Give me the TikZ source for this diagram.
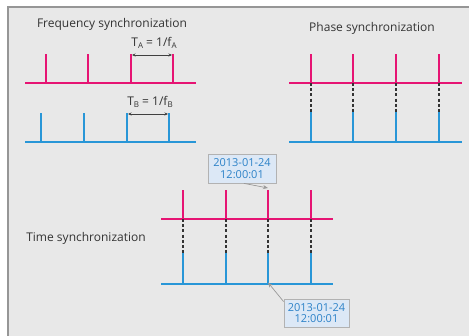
\documentclass[tikz,border=0pt]{standalone}
\usepackage{fontspec}
\setmainfont{Open Sans}
\usetikzlibrary{arrows.meta}
\definecolor{pinkc}{RGB}{230,20,115}
\definecolor{bluec}{RGB}{40,150,215}
\definecolor{bgc}{RGB}{232,232,232}
\definecolor{framec}{RGB}{150,150,150}
\definecolor{boxfill}{RGB}{220,232,246}
\definecolor{boxtext}{RGB}{45,130,200}
\newcommand{\sub}[1]{\raisebox{-0.35ex}{\footnotesize #1}}
\tikzset{
  pinkline/.style={draw=pinkc, line width=2.2pt},
  blueline/.style={draw=bluec, line width=2.2pt},
  dashline/.style={draw=black!80, line width=2.2pt, dash pattern=on 3pt off 2.2pt},
  dimline/.style={draw=black!75, line width=0.6pt, {Stealth[length=3.5pt,width=3pt]}-{Stealth[length=3.5pt,width=3pt]}},
  title/.style={font=\fontsize{12}{14}\selectfont, text=black!80, inner sep=0pt},
  dimlabel/.style={font=\fontsize{12}{14}\selectfont, text=black!80, inner sep=0pt},
  callout/.style={draw=black!30, fill=boxfill, line width=0.8pt, text=boxtext, align=center,
     font=\fontsize{11}{11.5}\selectfont, minimum width=68pt, minimum height=29pt, inner sep=1pt},
  pointer/.style={draw=black!40, line width=0.7pt, -{Stealth[length=5pt,width=4pt]}},
}
\begin{document}
\begin{tikzpicture}[x=1pt,y=-1pt]
\useasboundingbox (0,0) rectangle (469,336);
\fill[bgc] (8,7) rectangle (480,345);
\draw[framec, line width=1.2pt] (8,345) -- (8,7) -- (480,7);

% ---------- Frequency synchronization ----------
\node[title] (tf) at (112,24) {Frequency synchronization};
\coordinate (fpa0) at (25,83);  \coordinate (fpa1) at (196,83);
\draw[pinkline] (fpa0) -- (fpa1);
\foreach \i/\x in {1/46,2/88,3/131,4/173}{
  \coordinate (fp\i b) at (\x,83); \coordinate (fp\i t) at (\x,54);
  \draw[pinkline] (fp\i b) -- (fp\i t);
}
\coordinate (fba0) at (25,142);  \coordinate (fba1) at (196,142);
\draw[blueline] (fba0) -- (fba1);
\foreach \i/\x in {1/41,2/84,3/127,4/169}{
  \coordinate (fb\i b) at (\x,142); \coordinate (fb\i t) at (\x,113);
  \draw[blueline] (fb\i b) -- (fb\i t);
}
\coordinate (ta0) at (132,55); \coordinate (ta1) at (172,55);
\draw[dimline] (ta0) -- (ta1);
\node[dimlabel] (tal) at (154,43) {T\sub{A} = 1/f\sub{A}};
\coordinate (tb0) at (128,114); \coordinate (tb1) at (168,114);
\draw[dimline] (tb0) -- (tb1);
\node[dimlabel] (tbl) at (150,102) {T\sub{B} = 1/f\sub{B}};

% ---------- Phase synchronization ----------
\node[title] (tp) at (372,28) {Phase synchronization};
\coordinate (ppa0) at (289,83);  \coordinate (ppa1) at (462,83);
\draw[pinkline] (ppa0) -- (ppa1);
\coordinate (pba0) at (289,142);  \coordinate (pba1) at (462,142);
\draw[blueline] (pba0) -- (pba1);
\foreach \i/\x in {1/311,2/353,3/396,4/439}{
  \coordinate (pp\i t) at (\x,54); \coordinate (pp\i b) at (\x,83);
  \coordinate (pb\i t) at (\x,112); \coordinate (pb\i b) at (\x,142);
  \draw[pinkline] (pp\i b) -- (pp\i t);
  \draw[dashline] (pp\i b) -- (pb\i t);
  \draw[blueline] (pb\i b) -- (pb\i t);
}

% ---------- Time synchronization ----------
\node[title] (tt) at (86,238) {Time synchronization};
\coordinate (tpa0) at (161,219);  \coordinate (tpa1) at (333,219);
\draw[pinkline] (tpa0) -- (tpa1);
\coordinate (tba0) at (161,284);  \coordinate (tba1) at (333,284);
\draw[blueline] (tba0) -- (tba1);
\foreach \i/\x in {1/183,2/226,3/268,4/311}{
  \coordinate (tp\i t) at (\x,190); \coordinate (tp\i b) at (\x,219);
  \coordinate (tb\i t) at (\x,253); \coordinate (tb\i b) at (\x,284);
  \draw[pinkline] (tp\i b) -- (tp\i t);
  \draw[dashline] (tp\i b) -- (tb\i t);
  \draw[blueline] (tb\i b) -- (tb\i t);
}
\node[callout] (c1) at (242,168.5) {2013-01-24\\12:00:01};
\node[callout, minimum width=65pt, minimum height=28pt] (c2) at (316.5,313) {2013-01-24\\12:00:01};
\draw[pointer] ([xshift=2pt]c1.south) -- ([yshift=2pt]tp3t);
\draw[pointer] ([yshift=-3pt]c2.north west) -- ([yshift=1.5pt]tb3b);
\end{tikzpicture}
\end{document}
